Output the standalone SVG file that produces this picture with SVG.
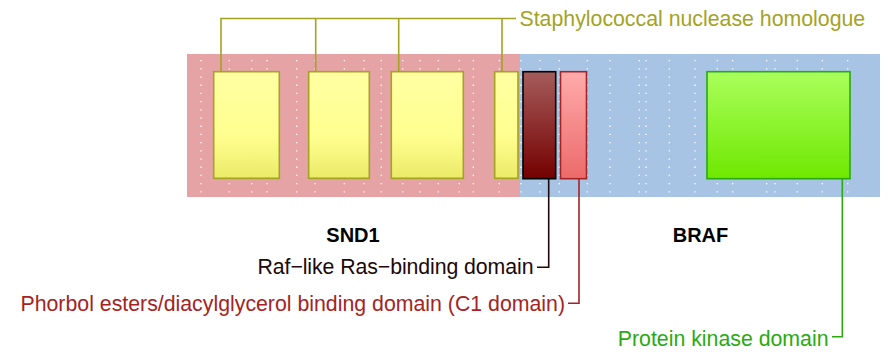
<svg xmlns="http://www.w3.org/2000/svg" width="888" height="358" viewBox="0 0 888 358">
<style>
.dot{stroke:#ffffff;stroke-width:1.3;stroke-dasharray:1.3 6.9;fill:none}
.lbl{font-family:"Liberation Sans",Arial,sans-serif;font-size:21.3px}
.title{font-family:"Liberation Sans",Arial,sans-serif;font-size:20px;font-weight:bold;fill:#000;text-anchor:middle}
.conn{fill:none;stroke-width:1.6}
</style>
<defs>
<linearGradient id="gY" x1="0" y1="0" x2="0" y2="1"><stop offset="0" stop-color="#ffffa3"/><stop offset="0.6" stop-color="#ffff90"/><stop offset="1" stop-color="#ecea68"/></linearGradient>
<linearGradient id="gD" x1="0" y1="0" x2="0" y2="1"><stop offset="0" stop-color="#a65c5c"/><stop offset="1" stop-color="#740000"/></linearGradient>
<linearGradient id="gP" x1="0" y1="0" x2="0" y2="1"><stop offset="0" stop-color="#ffabab"/><stop offset="1" stop-color="#ec6a6a"/></linearGradient>
<linearGradient id="gG" x1="0" y1="0" x2="0" y2="1"><stop offset="0" stop-color="#aaff5c"/><stop offset="1" stop-color="#6ee800"/></linearGradient>
</defs>
<g id="SND1">
<rect x="187" y="54" width="333" height="143" fill="#e5a3a5"/>
<g class="dot">
<path d="M201 60V195M229.3 60V195M251.7 60V195M267 60V195M296.7 60V195M315 60V195M344.3 60V195M364 60V195M381.3 60V195M402.7 60V195M420 60V195M438.3 60V195M459.3 60V195M473.3 60V195M499.3 60V195"/>
</g>
<text class="title" x="353" y="241.7">SND1</text>
</g>
<g id="BRAF">
<rect x="520" y="54" width="360" height="143" fill="#a8c4e4"/>
<g class="dot">
<path d="M521 60V195M540 60V195M559.3 60V195M587.3 60V195M610 60V195M639.3 60V195M646 60V195M669.3 60V195M695 60V195M717.3 60V195M732.7 60V195M766.7 60V195M775 60V195M797.3 60V195M822.3 60V195M847.7 60V195"/>
</g>
<text class="title" x="700.5" y="241.7">BRAF</text>
</g>
<g id="connectors">
<path class="conn" stroke="#a3a324" d="M221 72V18.5H516M315.7 18.5V72M398.7 18.5V72M502 18.5V72"/>
<path class="conn" stroke="#200808" d="M548.7 179V267.3H537"/>
<path class="conn" stroke="#a52323" d="M579 179V303.3H568"/>
<path class="conn" stroke="#2aaa10" d="M842.3 179V336.7H832"/>
</g>
<g id="snase1"><rect x="213.7" y="71.7" width="65.6" height="106.6" fill="url(#gY)" stroke="#a3a324" stroke-width="1.6"/></g>
<g id="snase2"><rect x="308.7" y="71.7" width="60.6" height="106.6" fill="url(#gY)" stroke="#a3a324" stroke-width="1.6"/></g>
<g id="snase3"><rect x="391.3" y="71.7" width="72" height="106.6" fill="url(#gY)" stroke="#a3a324" stroke-width="1.6"/></g>
<g id="snase4"><rect x="494.7" y="71.7" width="23.3" height="106.6" fill="url(#gY)" stroke="#a3a324" stroke-width="1.6"/></g>
<g id="rbd"><rect x="523" y="71.7" width="32.7" height="107" fill="url(#gD)" stroke="#000" stroke-width="1.6"/></g>
<g id="c1"><rect x="560.5" y="71.7" width="26" height="107" fill="url(#gP)" stroke="#a52323" stroke-width="1.6"/></g>
<g id="kinase"><rect x="707" y="71.7" width="143" height="107" fill="url(#gG)" stroke="#2aaa10" stroke-width="1.6"/></g>
<g id="labels">
<text class="lbl" x="519.5" y="26" fill="#a3a324">Staphylococcal nuclease homologue</text>
<text class="lbl" x="533.5" y="274" fill="#200808" text-anchor="end" textLength="276" lengthAdjust="spacing">Raf−like Ras−binding domain</text>
<text class="lbl" x="565" y="311" fill="#a52323" text-anchor="end">Phorbol esters/diacylglycerol binding domain (C1 domain)</text>
<text class="lbl" x="828.5" y="345.5" fill="#2aaa10" text-anchor="end">Protein kinase domain</text>
</g>
</svg>
